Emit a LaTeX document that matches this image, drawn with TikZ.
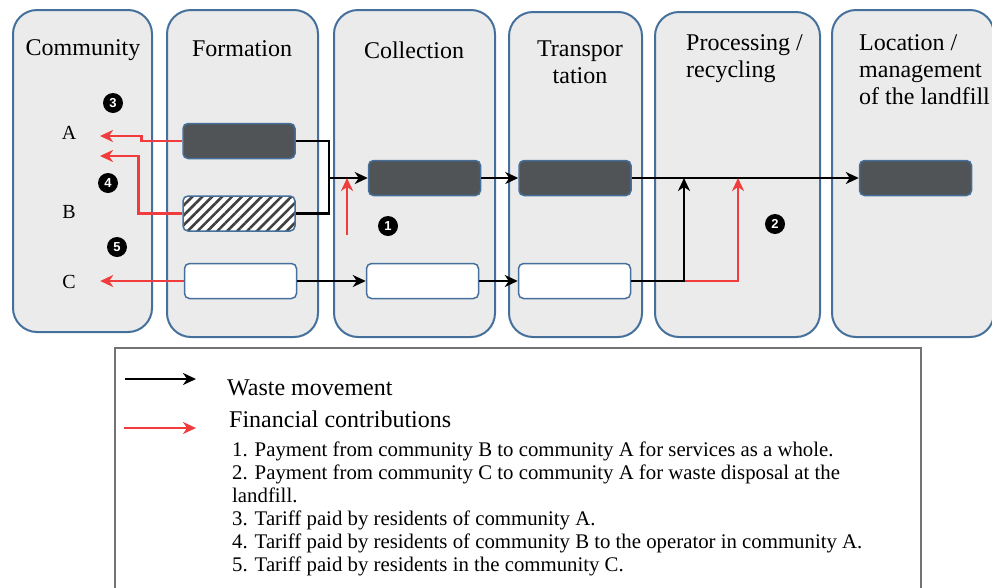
\documentclass[tikz,border=0pt]{standalone}
\usepackage{fontspec}
\setmainfont{Liberation Serif}
\setsansfont{Liberation Sans}
\usetikzlibrary{arrows.meta,patterns.meta}

\definecolor{stagefill}{HTML}{EBEBEB}
\definecolor{stageline}{HTML}{44709B}
\definecolor{darkbin}{HTML}{515456}
\definecolor{payred}{HTML}{F03C3C}

\begin{document}
\begin{tikzpicture}[x=1pt,y=-1pt]

\tikzset{stage/.style={draw=stageline,line width=2pt,fill=stagefill,rounded corners=24pt,inner sep=0pt},
  stagetitle/.style={font=\fontsize{24}{27}\selectfont,inner sep=0pt,align=left},
  bin/.style={draw=stageline,line width=1.5pt,rounded corners=5pt,minimum width=112pt,minimum height=35pt,inner sep=0pt},
  fullbin/.style={bin,fill=darkbin},
  whitebin/.style={bin,fill=white},
  hatchbin/.style={bin,preaction={fill=white},pattern={Lines[angle=45,distance=7pt,line width=2.6pt]},pattern color=black!75},
  comm/.style={font=\fontsize{20}{24}\selectfont,minimum width=62pt,inner sep=0pt},
  num/.style={circle,fill=black,text=white,minimum size=20pt,inner sep=0pt,font=\sffamily\bfseries\fontsize{13}{13}\selectfont},
  waste/.style={line width=2.5pt,draw=black},
  money/.style={line width=2.5pt,draw=payred},
  tip/.style={-{Stealth[length=13pt,width=12pt,inset=4pt]}},
  keytext/.style={font=\fontsize{24}{27}\selectfont,anchor=base west,inner sep=0pt}}

\useasboundingbox (0,0) rectangle (992,587);
\clip (0,0) rectangle (992,587);

% stages of the chain
\node[stage,minimum width=139pt,minimum height=322pt] (community) at (82.5,171) {};
\node[stage,minimum width=151pt,minimum height=327pt] (formation) at (242.5,173.5) {};
\node[stage,minimum width=161pt,minimum height=327pt] (collection) at (414.5,173.5) {};
\node[stage,minimum width=133pt,minimum height=325pt] (transport) at (575.5,174.5) {};
\node[stage,minimum width=165pt,minimum height=325pt] (processing) at (737.5,174.5) {};
\node[stage,minimum width=162pt,minimum height=327pt] (landfill) at (913,173.5) {};

\node[stagetitle] (tcommunity) at (83,50) {Community};
\node[stagetitle] (tformation) at (242,49) {Formation};
\node[stagetitle] (tcollection) at (414,50) {Collection};
\node[stagetitle,align=center] (ttransport) at (580,62) {Transpor\\tation};
\node[stagetitle,anchor=north west] (tprocessing) at (686,34) {Processing /\\recycling};
\node[stagetitle,anchor=north west] (tlandfill) at (859,34) {Location /\\management\\of the landfill};

% communities
\node[comm] (A) at (69,133) {A};
\node[comm] (B) at (69,212) {B};
\node[comm] (C) at (69,282) {C};

% waste streams
\node[fullbin] (fA) at (239,141) {};
\node[hatchbin] (fB) at (239,213.5) {};
\node[whitebin] (fC) at (240.5,281) {};
\node[fullbin] (cA) at (424.5,178) {};
\node[whitebin] (cC) at (422.5,281) {};
\node[fullbin] (tA) at (575,178) {};
\node[whitebin] (tC) at (574.5,281) {};
\node[fullbin] (lA) at (915.5,178) {};

\node[num] (n1) at (388,226) {1};
\node[num] (n2) at (775,224) {2};
\node[num] (n3) at (113,103) {3};
\node[num] (n4) at (108,183) {4};
\node[num] (n5) at (117,247) {5};

\coordinate (join) at (329,178);
\coordinate (rise1) at (684,178);
\coordinate (rise2) at (738,178);
\coordinate (pay1) at (347,235);
\coordinate (toA1) at (100,136);
\coordinate (toA2) at (100,156);

\draw[waste] (fA.east) -| (join) |- (fB.east);
\draw[waste,tip] (join) -- (cA.west);
\draw[waste,tip] (cA.east) -- (tA.west);
\draw[waste,tip] (tA.east) -- (lA.west);
\draw[waste,tip] (fC.east) -- (cC.west);
\draw[waste,tip] (cC.east) -- (tC.west);
\draw[money,tip] (rise1 |- tC.east) -| (rise2);
\draw[waste,tip] (tC.east) -| (rise1);
\draw[money,tip] (pay1) -- (pay1 |- join);

\draw[money,tip] (fA.west) -- ++(-41,0) |- (toA1);
\draw[money,tip] (fB.west) -- ++(-43,0) |- (toA2);
\draw[money,tip] (fC.west) -- (C.east |- fC.west);

% legend
\draw[draw=black!55,line width=2pt] (115,348) rectangle (921,600);
\coordinate (kw0) at (125,379);
\coordinate (kw1) at (196,379);
\coordinate (km0) at (124,428);
\coordinate (km1) at (196,428);
\draw[waste,tip] (kw0) -- (kw1);
\draw[money,tip] (km0) -- (km1);
\node[keytext] (kwaste) at (227,395) {Waste movement};
\node[keytext] (kmoney) at (229,427) {Financial contributions};
\node[font=\fontsize{20.8}{23}\selectfont,anchor=north west,align=left,inner sep=0pt] (klist) at (232,442)
  {1. Payment from community B to community A for services as a whole.\\
   2. Payment from community C to community A for waste disposal at the\\
   landfill.\\
   3. Tariff paid by residents of community A.\\
   4. Tariff paid by residents of community B to the operator in community A.\\
   5. Tariff paid by residents in the community C.};

\end{tikzpicture}
\end{document}
